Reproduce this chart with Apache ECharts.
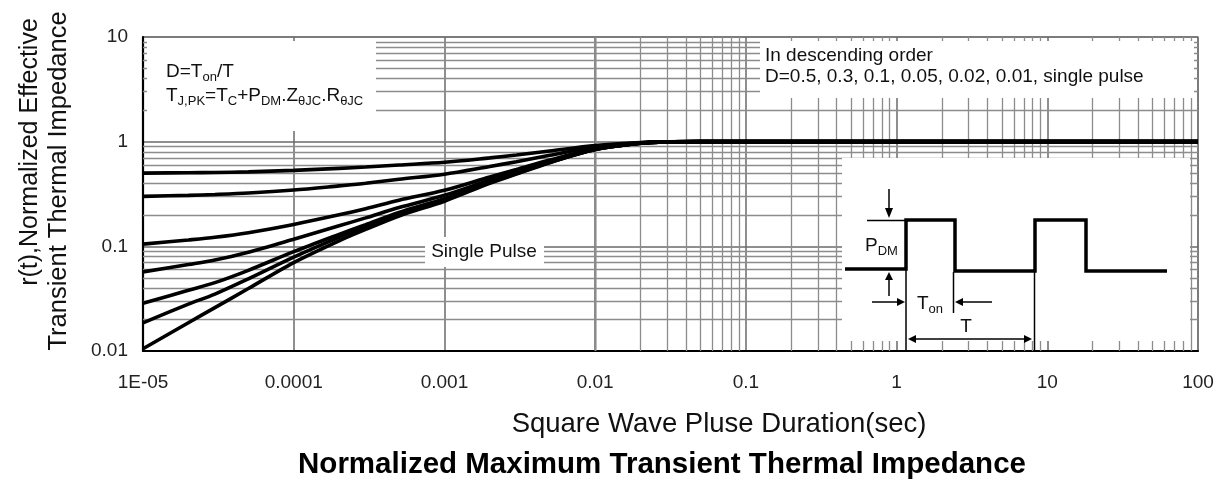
<!DOCTYPE html>
<html><head><meta charset="utf-8">
<script src="https://cdn.jsdelivr.net/npm/echarts@6/dist/echarts.min.js"></script>
<style>html,body{margin:0;padding:0;background:#fff}#c{width:1232px;height:482px}</style>
</head><body><div id="c"></div>
<script>
// ---- data ----
const durations = [1e-5, 2e-5, 3e-5, 5e-5, 1e-4, 2e-4, 3e-4, 5e-4, 1e-3, 2e-3, 3e-3, 5e-3, 1e-2, 2e-2, 3e-2, 5e-2, 1e-1, 1, 10, 100];
const seriesNames = ['D=0.5', 'D=0.3', 'D=0.1', 'D=0.05', 'D=0.02', 'D=0.01', 'Single Pulse'];
const rD050 = [0.500, 0.505, 0.508, 0.515, 0.532, 0.556, 0.572, 0.598, 0.635, 0.700, 0.745, 0.815, 0.920, 0.983, 0.997, 1, 1, 1, 1, 1];
const rD030 = [0.300, 0.307, 0.313, 0.323, 0.345, 0.378, 0.400, 0.437, 0.489, 0.580, 0.643, 0.741, 0.888, 0.976, 0.996, 1, 1, 1, 1, 1];
const rD010 = [0.105, 0.115, 0.122, 0.135, 0.162, 0.200, 0.229, 0.276, 0.343, 0.460, 0.541, 0.667, 0.856, 0.969, 0.995, 1, 1, 1, 1, 1];
const rD005 = [0.057, 0.067, 0.074, 0.088, 0.117, 0.157, 0.187, 0.235, 0.307, 0.430, 0.516, 0.649, 0.848, 0.967, 0.995, 1, 1, 1, 1, 1];
const rD002 = [0.0286, 0.038, 0.045, 0.059, 0.089, 0.130, 0.161, 0.211, 0.285, 0.412, 0.500, 0.637, 0.843, 0.966, 0.995, 1, 1, 1, 1, 1];
const rD001 = [0.0186, 0.028, 0.035, 0.049, 0.079, 0.122, 0.153, 0.203, 0.277, 0.406, 0.495, 0.634, 0.842, 0.965, 0.995, 1, 1, 1, 1, 1];
const rSingle = [0.0105, 0.0186, 0.026, 0.0395, 0.070, 0.113, 0.145, 0.195, 0.270, 0.400, 0.490, 0.630, 0.840, 0.965, 0.995, 1, 1, 1, 1, 1];
const xTickLabels = ['1E-05', '0.0001', '0.001', '0.01', '0.1', '1', '10', '100'];
const yTickLabels = ['0.01', '0.1', '1', '10'];

// minor grid positions (2..9 within each decade)
const xMinor = [];
for (let e = -5; e < 2; e++) for (let k = 2; k <= 9; k++) xMinor.push(+(k * Math.pow(10, e)).toPrecision(3));
const yMinor = [];
for (let e = -2; e < 1; e++) for (let k = 2; k <= 9; k++) yMinor.push(+(k * Math.pow(10, e)).toPrecision(3));

const FONT = '"Liberation Sans", Arial, sans-serif';
const curves = [rD050, rD030, rD010, rD005, rD002, rD001, rSingle];

const series = curves.map((vals, i) => ({
  name: seriesNames[i],
  type: 'line',
  data: durations.map((x, j) => [x, vals[j]]),
  showSymbol: false,
  symbol: 'none',
  smooth: 0.3,
  z: 3,
  lineStyle: { color: '#000', width: 3.6 },
  silent: true
}));
series[6].markLine = {
  silent: true, z: 1, symbol: ['none', 'none'], label: { show: false }, animation: false,
  lineStyle: { color: '#8c8c8c', width: 1.3, type: 'solid' },
  emphasis: { disabled: true },
  data: xMinor.map(v => ({ xAxis: v })).concat(yMinor.map(v => ({ yAxis: v })))
};

const G = []; // graphic elements
function box(x, y, w, h) { G.push({ type: 'rect', z: 2, silent: true, shape: { x, y, width: w, height: h }, style: { fill: '#fff' } }); }
function line(pts, w) { G.push({ type: 'polyline', z: 4, silent: true, shape: { points: pts }, style: { stroke: '#000', lineWidth: w, fill: null } }); }
function tri(pts) { G.push({ type: 'polygon', z: 4, silent: true, shape: { points: pts }, style: { fill: '#000' } }); }
function txt(x, y, t, size, opts) {
  G.push({ type: 'text', z: 4, silent: true, x, y,
    style: Object.assign({ text: t, fontSize: size, fontFamily: FONT, fill: '#111', textVerticalAlign: 'middle',
      rich: { n: { fontSize: size, fontFamily: FONT, lineHeight: 24 }, s: { fontSize: Math.round(size * 0.68), fontFamily: FONT, lineHeight: 9, verticalAlign: 'bottom' } } }, opts || {}) });
}

// white annotation boxes
box(147, 41, 229, 90);
box(760, 41, 434, 57);
box(425, 237, 119, 30);
box(842, 158, 348, 183);

// annotation texts
txt(166, 72, '{n|D=T}{s|on}{n|/T}', 19);
txt(166, 96, '{n|T}{s|J,PK}{n|=T}{s|C}{n|+P}{s|DM}{n|.Z}{s|θJC}{n|.R}{s|θJC}', 19);
txt(765, 56, 'In descending order', 19);
txt(765, 77, 'D=0.5, 0.3, 0.1, 0.05, 0.02, 0.01, single pulse', 19);
txt(484, 252, 'Single Pulse', 19, { textAlign: 'center' });

// inset: pulse train schematic
line([[845, 269], [906, 269], [906, 220], [955, 220], [955, 271], [1035, 271], [1035, 220], [1086, 220], [1086, 271], [1167, 271]], 3.5);
line([[867, 220.5], [906, 220.5]], 1.5);
line([[889, 189], [889, 211]], 1.5); tri([[885, 208], [893, 208], [889, 218]]);
line([[889, 296], [889, 278]], 1.5); tri([[885, 280], [893, 280], [889, 272]]);
line([[906, 269], [906, 351]], 1.5);
line([[953.5, 272], [953.5, 313]], 1.5);
line([[1034.5, 272], [1034.5, 351]], 1.5);
line([[872, 302], [898, 302]], 1.5); tri([[897, 298], [897, 306], [905, 302]]);
line([[992, 302], [962, 302]], 1.5); tri([[963, 298], [963, 306], [955, 302]]);
line([[915, 339], [1025, 339]], 1.5); tri([[916, 335], [916, 343], [908, 339]]); tri([[1024, 335], [1024, 343], [1032, 339]]);
txt(865, 246, '{n|P}{s|DM}', 19);
txt(917, 304, '{n|T}{s|on}', 19);
txt(966, 327, 'T', 19, { textAlign: 'center' });

// axis titles
txt(30, 152, 'r(t),Normalized Effective', 25, { textAlign: 'center' });
G[G.length - 1].rotation = Math.PI / 2;
txt(59, 181, 'Transient Thermal Impedance', 25.5, { textAlign: 'center' });
G[G.length - 1].rotation = Math.PI / 2;
txt(719, 424, 'Square Wave Pluse Duration(sec)', 27.5, { textAlign: 'center' });
txt(662, 465, 'Normalized Maximum Transient Thermal Impedance', 29.5, { textAlign: 'center', fontWeight: 'bold', fill: '#000' });

const chart = echarts.init(document.getElementById('c'), null, { renderer: 'canvas' });
chart.setOption({
  animation: false,
  backgroundColor: '#fff',
  grid: { left: 143, top: 37, right: 34, bottom: 131, show: true, borderColor: '#9a9a9a', borderWidth: 1.5, outerBoundsMode: 'none' },
  xAxis: {
    type: 'log', logBase: 10, min: 1e-5, max: 100,
    axisLine: { lineStyle: { color: '#000', width: 2.2 } },
    axisTick: { show: false },
    splitLine: { show: true, lineStyle: { color: '#6a6a6a', width: 1.5 } },
    axisLabel: { fontSize: 19, fontFamily: FONT, color: '#222', margin: 22,
      formatter: v => xTickLabels[Math.round(Math.log10(v)) + 5] }
  },
  yAxis: {
    type: 'log', logBase: 10, min: 0.01, max: 10,
    axisLine: { lineStyle: { color: '#000', width: 2.2 } },
    axisTick: { show: false },
    splitLine: { show: true, lineStyle: { color: '#6a6a6a', width: 1.5 } },
    axisLabel: { fontSize: 19, fontFamily: FONT, color: '#222', margin: 15, padding: [6, 0, 0, 0],
      formatter: v => yTickLabels[Math.round(Math.log10(v)) + 2] }
  },
  series: series,
  graphic: { elements: G }
});
</script></body></html>
